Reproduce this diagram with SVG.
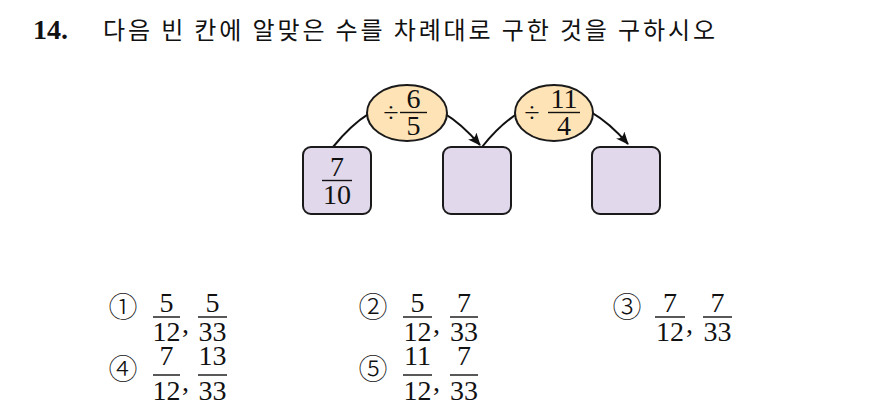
<svg xmlns="http://www.w3.org/2000/svg" width="884" height="401" viewBox="0 0 884 401">
<style>
.kr{font-family:"Noto Sans CJK KR","Noto Sans",sans-serif;font-size:24px;fill:#111}
.num{font-family:"Liberation Serif","DejaVu Serif",serif;font-size:28px;fill:#111}
.box{fill:#E1D8EC;stroke:#1a1a1a;stroke-width:2}
.op{fill:#FDE3B6;stroke:#1a1a1a;stroke-width:2}
.bar{stroke:#111;stroke-width:1.4}
.conn{fill:none;stroke:#111;stroke-width:2}
.circ{font-family:"Noto Sans CJK KR","DejaVu Sans",sans-serif;font-size:29px;font-weight:300;fill:#111}
</style>
<defs>
<marker id="arr" viewBox="0 0 13 11" refX="12" refY="5.5" markerWidth="13" markerHeight="11" markerUnits="userSpaceOnUse" orient="auto">
<path d="M0,0 Q5,5.5 0,11 L13,5.5 Z" fill="#111"/>
</marker>
</defs>
<rect width="884" height="401" fill="#fff"/>
<g id="title">
<text x="33" y="39" font-family="Liberation Serif,serif" font-weight="bold" font-size="28" fill="#111">14.</text>
<text x="103" y="39" class="kr" textLength="612" lengthAdjust="spacing">다음 빈 칸에 알맞은 수를 차례대로 구한 것을 구하시오</text>
</g>
<g id="connectors">
<path class="conn" d="M333,147 Q405,58 480,145" marker-end="url(#arr)"/>
<path class="conn" d="M482,147 Q553,58 628,144" marker-end="url(#arr)"/>
</g>
<g id="box1">
<rect class="box" x="303" y="147" width="68" height="67" rx="8"/>
<text class="num" x="337" y="176" text-anchor="middle">7</text>
<line class="bar" x1="322" y1="180.5" x2="352" y2="180.5"/>
<text class="num" x="337" y="204" text-anchor="middle">10</text>
</g>
<g id="box2">
<rect class="box" x="443" y="147" width="68" height="67" rx="8"/>
</g>
<g id="box3">
<rect class="box" x="592" y="147" width="68" height="67" rx="8"/>
</g>
<g id="op1">
<ellipse class="op" cx="407" cy="113" rx="40" ry="28"/>
<text class="num" x="391" y="122" text-anchor="middle">÷</text>
<text class="num" x="413.5" y="108" text-anchor="middle">6</text>
<line class="bar" x1="400" y1="112.5" x2="427" y2="112.5"/>
<text class="num" x="413.5" y="135" text-anchor="middle">5</text>
</g>
<g id="op2">
<ellipse class="op" cx="554" cy="113" rx="39" ry="28"/>
<text class="num" x="532" y="122" text-anchor="middle">÷</text>
<text class="num" x="564" y="108" text-anchor="middle">11</text>
<line class="bar" x1="548" y1="112.5" x2="580" y2="112.5"/>
<text class="num" x="564" y="135" text-anchor="middle">4</text>
</g>
<g id="options">
<text class="circ" x="123" y="318" text-anchor="middle">①</text>
<text class="num" x="166.5" y="312" text-anchor="middle">5</text>
<line class="bar" x1="153" y1="317" x2="180" y2="317"/>
<text class="num" x="166.5" y="341" text-anchor="middle">12</text>
<text class="num" x="182" y="333">,</text>
<text class="num" x="212.5" y="312" text-anchor="middle">5</text>
<line class="bar" x1="198" y1="317" x2="227" y2="317"/>
<text class="num" x="212.5" y="341" text-anchor="middle">33</text>

<text class="circ" x="373" y="318" text-anchor="middle">②</text>
<text class="num" x="417.5" y="312" text-anchor="middle">5</text>
<line class="bar" x1="403" y1="317" x2="432" y2="317"/>
<text class="num" x="417.5" y="341" text-anchor="middle">12</text>
<text class="num" x="433" y="333">,</text>
<text class="num" x="464" y="312" text-anchor="middle">7</text>
<line class="bar" x1="450" y1="317" x2="478" y2="317"/>
<text class="num" x="464" y="341" text-anchor="middle">33</text>

<text class="circ" x="627" y="318" text-anchor="middle">③</text>
<text class="num" x="670" y="312" text-anchor="middle">7</text>
<line class="bar" x1="655" y1="317" x2="685" y2="317"/>
<text class="num" x="670" y="341" text-anchor="middle">12</text>
<text class="num" x="686" y="333">,</text>
<text class="num" x="717.5" y="312" text-anchor="middle">7</text>
<line class="bar" x1="703" y1="317" x2="732" y2="317"/>
<text class="num" x="717.5" y="341" text-anchor="middle">33</text>

<text class="circ" x="123" y="380" text-anchor="middle">④</text>
<text class="num" x="166.5" y="365" text-anchor="middle">7</text>
<line class="bar" x1="153" y1="375" x2="180" y2="375"/>
<text class="num" x="166.5" y="400" text-anchor="middle">12</text>
<text class="num" x="182" y="391">,</text>
<text class="num" x="212.5" y="365" text-anchor="middle">13</text>
<line class="bar" x1="198" y1="375" x2="227" y2="375"/>
<text class="num" x="212.5" y="400" text-anchor="middle">33</text>

<text class="circ" x="373" y="380" text-anchor="middle">⑤</text>
<text class="num" x="417.5" y="365" text-anchor="middle">11</text>
<line class="bar" x1="403" y1="375" x2="432" y2="375"/>
<text class="num" x="417.5" y="400" text-anchor="middle">12</text>
<text class="num" x="433" y="391">,</text>
<text class="num" x="464" y="365" text-anchor="middle">7</text>
<line class="bar" x1="450" y1="375" x2="478" y2="375"/>
<text class="num" x="464" y="400" text-anchor="middle">33</text>
</g>
</svg>
